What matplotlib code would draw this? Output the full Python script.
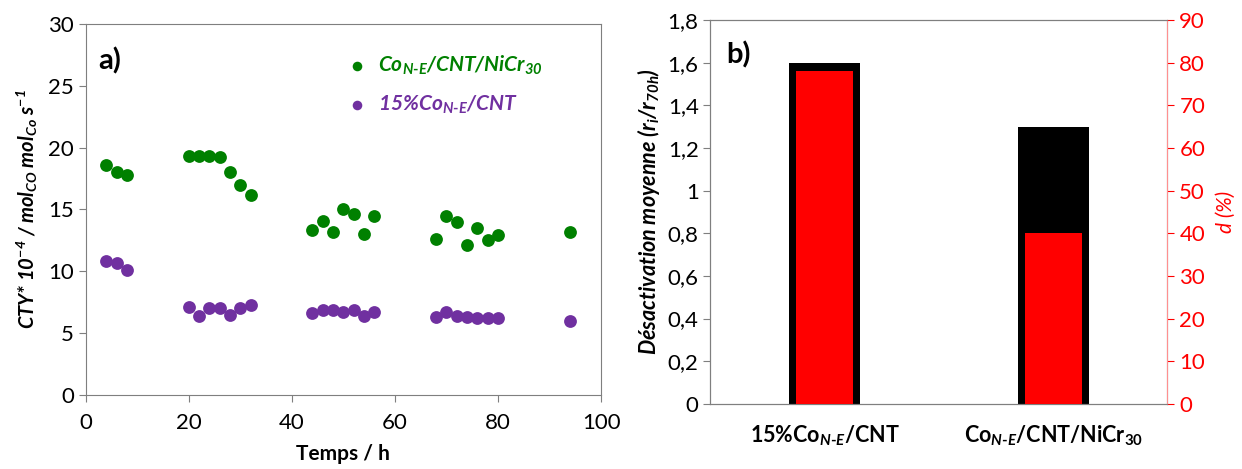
#!/usr/bin/env python3
"""CTY vs time (a) and average deactivation bars (b)"""

import matplotlib
matplotlib.use("Agg")
import matplotlib.pyplot as plt
from matplotlib.ticker import FuncFormatter
from matplotlib import rcParams

rcParams['font.family'] = ['Lato', 'DejaVu Sans']
rcParams['mathtext.fontset'] = 'custom'
rcParams['mathtext.default'] = 'regular'
rcParams['mathtext.rm'] = 'Lato:bold'
rcParams['mathtext.it'] = 'Lato:italic:bold'

#--- data, panel a
#
temps = [4, 6, 8, 20, 22, 24, 26, 28, 30, 32, 44, 46, 48, 50, 52, 54, 56,
         68, 70, 72, 74, 76, 78, 80, 94]
cty_nicr = [18.6, 18.0, 17.8, 19.3, 19.3, 19.3, 19.2, 18.0, 17.0, 16.2,
            13.3, 14.1, 13.2, 15.0, 14.6, 13.0, 14.5,
            12.6, 14.5, 14.0, 12.1, 13.5, 12.5, 12.9, 13.2]
cty_cnt = [10.8, 10.7, 10.1, 7.1, 6.4, 7.0, 7.0, 6.5, 7.0, 7.3,
           6.6, 6.9, 6.9, 6.7, 6.9, 6.4, 6.7,
           6.3, 6.7, 6.4, 6.3, 6.2, 6.2, 6.2, 6.0]

#--- data, panel b
#
catalysts = [r'15%Co$_{\mathit{N}\text{-}\mathit{E}}$/CNT',
             r'Co$_{\mathit{N}\text{-}\mathit{E}}$/CNT/NiCr$_{30}$']
desact = [1.6, 1.3]
d_pct = [78, 40]

green = '#008000'
purple = '#7030A0'
spine_c = '#7f7f7f'
tick_fs = 16

fig = plt.figure(figsize=(12.42, 4.69), dpi=100)

#--- panel a
#
ax1 = fig.add_axes([0.069, 0.158, 0.415, 0.791])
ax1.scatter(temps, cty_nicr, s=85, color=green, lw=0, zorder=3,
            label=r'Co$_{N\text{-}E}$/CNT/NiCr$_{30}$')
ax1.scatter(temps, cty_cnt, s=85, color=purple, lw=0, zorder=3,
            label=r'15%Co$_{N\text{-}E}$/CNT')
ax1.set_xlim(0, 100)
ax1.set_ylim(0, 30)
ax1.set_xticks(range(0, 101, 20))
ax1.set_yticks(range(0, 31, 5))
ax1.tick_params(labelsize=tick_fs, length=5, color=spine_c)
ax1.tick_params(axis='x', pad=8)
for sp in ax1.spines.values():
    sp.set_color(spine_c)
ax1.set_xlabel('Temps / h', fontsize=15, weight='bold', labelpad=8)
ax1.set_ylabel(r'CTY* 10$^{-4}$ / mol$_{CO}$ mol$_{Co}$ s$^{-1}$',
               fontsize=14.5, weight='bold', style='italic', labelpad=6)
ax1.text(0.025, 0.9, 'a)', transform=ax1.transAxes, fontsize=21,
         weight='bold', va='center')
lg = ax1.legend(loc='upper left', bbox_to_anchor=(0.45, 0.97), frameon=False,
                handletextpad=0.0, markerscale=0.75, labelspacing=0.8,
                prop={'size': 15, 'weight': 'bold', 'style': 'italic'})
for txt, c in zip(lg.get_texts(), [green, purple]):
    txt.set_color(c)

#--- panel b
#
ax2 = fig.add_axes([0.572, 0.139, 0.368, 0.818])
xs = list(range(len(catalysts)))
ax2.bar(xs, desact, width=0.31, color='black', zorder=2)
ax2.set_xlim(-0.5, 1.5)
ax2.set_ylim(0, 1.8)
ax2.set_yticks([i * 0.2 for i in range(10)])
ax2.yaxis.set_major_formatter(
    FuncFormatter(lambda v, _: ('%g' % round(v, 1)).replace('.', ',')))
ax2.set_xticks(xs)
ax2.set_xticklabels(catalysts, fontsize=15.5, weight='bold')
ax2.tick_params(axis='x', length=0, pad=14)
ax2.tick_params(axis='y', labelsize=tick_fs, length=5, color=spine_c)
ax2.set_ylabel(r'Désactivation moyenne (r$_{i}$/r$_{70h}$)',
               fontsize=15.5, weight='bold', style='italic', labelpad=4)
ax2.text(0.035, 0.91, 'b)', transform=ax2.transAxes, fontsize=21,
         weight='bold', va='center')

ax3 = ax2.twinx()
ax3.bar(xs, d_pct, width=0.25, color='red', zorder=3)
ax3.set_ylim(0, 90)
ax3.set_yticks(range(0, 91, 10))
ax3.tick_params(axis='y', labelsize=tick_fs, length=5, colors='red')
ax3.set_ylabel('d (%)', fontsize=15, style='italic', color='red', labelpad=8)
for ax in (ax2, ax3):
    for sp in ax.spines.values():
        sp.set_color(spine_c)
ax3.spines['right'].set_color('#ff9090')

plt.savefig('out.png', dpi=100)
